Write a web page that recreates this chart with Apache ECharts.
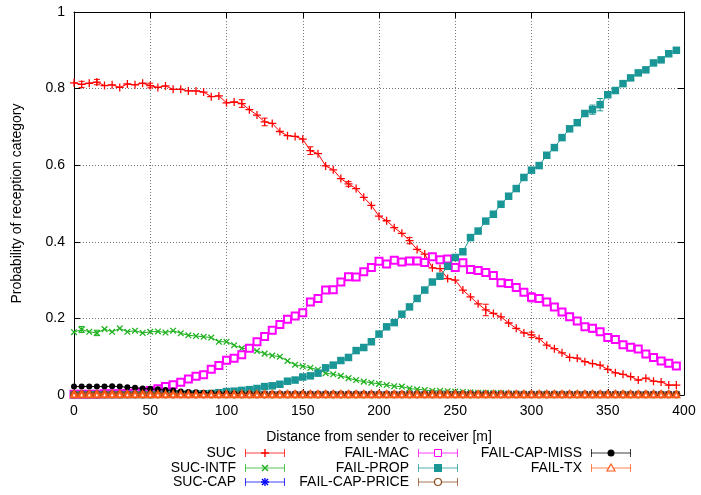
<!DOCTYPE html>
<html>
<head>
<meta charset="utf-8">
<script src="https://cdn.jsdelivr.net/npm/echarts@6/dist/echarts.min.js"></script>
<style>html,body{margin:0;padding:0;background:#fff;}#c{width:701px;height:495px;}</style>
</head>
<body>
<div id="c"></div>
<script>
// ---- data ----
const distance = [0,5,10,15,20,25,30,35,40,45,50,55,60,65,70,75,80,85,90,95,
  100,105,110,115,120,125,130,135,140,145,150,155,160,165,170,175,180,185,190,195,
  200,205,210,215,220,225,230,235,240,245,250,255,260,265,270,275,280,285,290,295,
  300,305,310,315,320,325,330,335,340,345,350,355,360,365,370,375,380,385,390,395];

const suc = [0.815,0.811,0.814,0.817,0.808,0.810,0.803,0.812,0.810,0.814,
  0.808,0.803,0.807,0.798,0.798,0.794,0.794,0.791,0.779,0.781,
  0.763,0.765,0.761,0.745,0.731,0.713,0.709,0.688,0.677,0.675,
  0.668,0.638,0.630,0.598,0.588,0.565,0.551,0.539,0.516,0.495,
  0.467,0.455,0.437,0.422,0.403,0.380,0.368,0.332,0.330,0.304,
  0.300,0.274,0.256,0.238,0.222,0.213,0.204,0.188,0.174,0.162,
  0.157,0.147,0.130,0.121,0.110,0.098,0.096,0.087,0.082,0.078,
  0.067,0.058,0.054,0.048,0.039,0.044,0.036,0.034,0.026,0.026];

const sucIntf = [0.164,0.171,0.165,0.162,0.172,0.165,0.174,0.165,0.168,0.162,
  0.165,0.166,0.163,0.168,0.161,0.156,0.154,0.152,0.150,0.139,
  0.139,0.130,0.122,0.121,0.115,0.108,0.103,0.100,0.089,0.079,
  0.075,0.071,0.066,0.057,0.054,0.050,0.044,0.039,0.035,0.032,
  0.029,0.026,0.023,0.022,0.017,0.015,0.013,0.011,0.011,0.010,
  0.009,0.008,0.007,0.006,0.006,0.005,0.005,0.004,0.004,0.003,
  0.003,0.003,0.003,0.003,0.002,0.002,0.002,0.002,0.002,0.002,
  0.002,0.002,0.002,0.001,0.001,0.001,0.001,0.001,0.001,0.001];

const sucCap = [0.001,0.001,0.001,0.001,0.001,0.001,0.001,0.001,0.001,0.001,
  0.001,0.001,0.001,0.001,0.001,0.001,0.001,0.001,0.001,0.001,
  0.001,0.001,0.001,0.001,0.001,0.001,0.001,0.001,0.001,0.001,
  0.001,0.001,0.001,0.001,0.001,0.001,0.001,0.001,0.001,0.001,
  0.001,0.001,0.001,0.001,0.001,0.001,0.001,0.001,0.001,0.001,
  0.001,0.001,0.001,0.001,0.001,0.001,0.001,0.001,0.001,0.001,
  0.001,0.001,0.001,0.001,0.001,0.001,0.001,0.001,0.001,0.001,
  0.001,0.001,0.001,0.001,0.001,0.001,0.001,0.001,0.001,0.001];

const failMac = [0.002,0.002,0.002,0.002,0.003,0.003,0.003,0.004,0.005,0.008,
  0.012,0.016,0.022,0.027,0.033,0.042,0.049,0.053,0.067,0.077,
  0.091,0.096,0.105,0.122,0.139,0.153,0.169,0.184,0.198,0.206,
  0.215,0.243,0.252,0.274,0.275,0.295,0.309,0.308,0.322,0.333,
  0.349,0.342,0.352,0.347,0.350,0.350,0.346,0.361,0.353,0.355,
  0.333,0.345,0.328,0.325,0.320,0.312,0.293,0.291,0.281,0.268,
  0.255,0.252,0.243,0.230,0.217,0.204,0.193,0.178,0.174,0.165,
  0.150,0.145,0.131,0.125,0.120,0.107,0.098,0.089,0.083,0.076];

const failProp = [0.001,0.001,0.001,0.001,0.001,0.001,0.001,0.001,0.001,0.001,
  0.001,0.002,0.002,0.002,0.002,0.003,0.003,0.003,0.004,0.006,
  0.009,0.010,0.012,0.014,0.017,0.022,0.024,0.028,0.036,0.039,
  0.047,0.050,0.057,0.071,0.078,0.090,0.098,0.116,0.124,0.139,
  0.159,0.178,0.189,0.211,0.230,0.252,0.274,0.295,0.310,0.336,
  0.359,0.374,0.411,0.428,0.454,0.472,0.498,0.519,0.539,0.568,
  0.587,0.599,0.626,0.646,0.672,0.695,0.711,0.735,0.745,0.758,
  0.784,0.795,0.813,0.828,0.841,0.849,0.867,0.875,0.891,0.900];

const failCapPrice = [0.001,0.001,0.001,0.001,0.001,0.001,0.001,0.001,0.001,0.001,
  0.001,0.001,0.001,0.001,0.001,0.001,0.001,0.001,0.001,0.001,
  0.001,0.001,0.001,0.001,0.001,0.001,0.001,0.001,0.001,0.001,
  0.001,0.001,0.001,0.001,0.001,0.001,0.001,0.001,0.001,0.001,
  0.001,0.001,0.001,0.001,0.001,0.001,0.001,0.001,0.001,0.001,
  0.001,0.001,0.001,0.001,0.001,0.001,0.001,0.001,0.001,0.001,
  0.001,0.001,0.001,0.001,0.001,0.001,0.001,0.001,0.001,0.001,
  0.001,0.001,0.001,0.001,0.001,0.001,0.001,0.001,0.001,0.001];

const failCapMiss = [0.022,0.022,0.022,0.022,0.022,0.023,0.022,0.020,0.019,0.017,
  0.016,0.015,0.013,0.012,0.009,0.008,0.007,0.006,0.005,0.004,
  0.004,0.003,0.003,0.003,0.002,0.002,0.002,0.002,0.002,0.002,
  0.002,0.002,0.002,0.002,0.002,0.002,0.002,0.002,0.002,0.002,
  0.001,0.001,0.001,0.001,0.001,0.001,0.001,0.001,0.001,0.001,
  0.001,0.001,0.001,0.001,0.001,0.001,0.001,0.001,0.001,0.001,
  0.001,0.001,0.001,0.001,0.001,0.001,0.001,0.001,0.001,0.001,
  0.001,0.001,0.001,0.001,0.001,0.001,0.001,0.001,0.001,0.001];

const failTx = [0.002,0.002,0.002,0.002,0.002,0.002,0.002,0.002,0.002,0.002,
  0.002,0.002,0.002,0.002,0.002,0.002,0.002,0.002,0.002,0.002,
  0.002,0.002,0.002,0.002,0.002,0.002,0.002,0.002,0.002,0.002,
  0.002,0.002,0.002,0.002,0.002,0.002,0.002,0.002,0.002,0.002,
  0.002,0.002,0.002,0.002,0.002,0.002,0.002,0.002,0.002,0.002,
  0.002,0.002,0.002,0.002,0.002,0.002,0.002,0.002,0.002,0.002,
  0.002,0.002,0.002,0.002,0.002,0.002,0.002,0.002,0.002,0.002,
  0.002,0.002,0.002,0.002,0.002,0.002,0.002,0.002,0.002,0.002];

// visible error bars: [distance, half-width]
const sucErr = [[5,0.008],[15,0.007],[50,0.006],[110,0.010],[125,0.010],[155,0.010],[180,0.006],[220,0.008],[270,0.015],[300,0.007]];
const intfErr = [[5,0.008],[15,0.007]];
const macErr = [[160,0.008],[300,0.012],[305,0.010],[340,0.010]];
const propErr = [[340,0.012],[345,0.016]];

const xTicks = [0,50,100,150,200,250,300,350,400];
const yTicks = [0,0.2,0.4,0.6,0.8,1];

const names = ['SUC','SUC-INTF','SUC-CAP','FAIL-MAC','FAIL-PROP','FAIL-CAP-PRICE','FAIL-CAP-MISS','FAIL-TX'];
const values = [suc,sucIntf,sucCap,failMac,failProp,failCapPrice,failCapMiss,failTx];
const colors = ['#ff0000','#1fb11f','#0000ff','#ff00ff','#1a9696','#8b4a1e','#000000','#ff5a1a'];
const errs = [sucErr,intfErr,null,macErr,propErr,null,null,null];

// ---- styles ----
const FONT = 'Liberation Sans, Arial, Helvetica, sans-serif';
const PLUS = 'path://M0,4.2H10V5.8H0Z M4.2,0H5.8V10H4.2Z';
const STAR = 'path://M0,4.3H10V5.7H0Z M4.3,0H5.7V10H4.3Z M1,0L10,9L9,10L0,1Z M9,0L10,1L1,10L0,9Z';
const symbols = [
  {symbol: PLUS, size: 8, rotate: 0},
  {symbol: PLUS, size: 8, rotate: 45},
  {symbol: STAR, size: 7, rotate: 0},
  {symbol: 'emptyRect', size: 7, rotate: 0},
  {symbol: 'rect', size: 7.5, rotate: 0},
  {symbol: 'emptyCircle', size: 6, rotate: 0},
  {symbol: 'circle', size: 6, rotate: 0},
  {symbol: 'emptyTriangle', size: 6, rotate: 0}
];

const series = [];
names.forEach((n, i) => {
  series.push({
    name: n, type: 'line',
    data: distance.map((d, k) => [d, values[i][k]]),
    symbol: symbols[i].symbol, symbolSize: symbols[i].size, symbolRotate: symbols[i].rotate,
    showSymbol: true, showAllSymbol: true,
    lineStyle: {color: colors[i], width: 1},
    itemStyle: {color: colors[i], borderColor: colors[i], borderWidth: (symbols[i].symbol.indexOf('empty') === 0 ? 1 : 0)},
    z: 2 + i, silent: true, animation: false
  });
  if (errs[i]) {
    const e = errs[i];
    series.push({
      type: 'custom', z: 2 + i, silent: true, animation: false,
      data: e.map(p => { const v = values[i][distance.indexOf(p[0])]; return [p[0], v - p[1], v + p[1]]; }),
      renderItem: (params, api) => {
        const lo = api.coord([api.value(0), api.value(1)]);
        const hi = api.coord([api.value(0), api.value(2)]);
        const st = {stroke: colors[i], lineWidth: 1};
        return {type: 'group', children: [
          {type: 'line', shape: {x1: lo[0], y1: lo[1], x2: hi[0], y2: hi[1]}, style: st},
          {type: 'line', shape: {x1: lo[0]-3, y1: lo[1], x2: lo[0]+3, y2: lo[1]}, style: st},
          {type: 'line', shape: {x1: hi[0]-3, y1: hi[1], x2: hi[0]+3, y2: hi[1]}, style: st}
        ]};
      }
    });
  }
});

// ---- legend drawn as graphics (gnuplot style) ----
const legendCols = [{tx: 236, lx1: 245, lx2: 285}, {tx: 409, lx1: 418, lx2: 458}, {tx: 582, lx1: 591, lx2: 631}];
const legendRows = [453, 468, 482];
const graphics = [];
names.forEach((n, i) => {
  const col = legendCols[Math.floor(i / 3)];
  const y = legendRows[i % 3];
  const c = colors[i];
  graphics.push({type: 'text', x: col.tx, y: y, silent: true,
    style: {text: n, align: 'right', verticalAlign: 'middle', fontSize: 14, fontFamily: FONT, fill: '#000'}});
  const ls = {stroke: c, lineWidth: 1, opacity: 0.75};
  graphics.push({type: 'line', shape: {x1: col.lx1, y1: y, x2: col.lx2, y2: y}, style: ls, silent: true});
  graphics.push({type: 'line', shape: {x1: col.lx1 + 0.5, y1: y - 4, x2: col.lx1 + 0.5, y2: y + 4}, style: ls, silent: true});
  graphics.push({type: 'line', shape: {x1: col.lx2 - 0.5, y1: y - 4, x2: col.lx2 - 0.5, y2: y + 4}, style: ls, silent: true});
  const mx = (col.lx1 + col.lx2) / 2;
  const ss = {stroke: c, lineWidth: 1.4};
  if (i === 0) {
    graphics.push({type: 'line', shape: {x1: mx - 4, y1: y, x2: mx + 4, y2: y}, style: ss, silent: true});
    graphics.push({type: 'line', shape: {x1: mx, y1: y - 4, x2: mx, y2: y + 4}, style: ss, silent: true});
  } else if (i === 1) {
    graphics.push({type: 'line', shape: {x1: mx - 3, y1: y - 3, x2: mx + 3, y2: y + 3}, style: ss, silent: true});
    graphics.push({type: 'line', shape: {x1: mx - 3, y1: y + 3, x2: mx + 3, y2: y - 3}, style: ss, silent: true});
  } else if (i === 2) {
    graphics.push({type: 'line', shape: {x1: mx - 4, y1: y, x2: mx + 4, y2: y}, style: ss, silent: true});
    graphics.push({type: 'line', shape: {x1: mx, y1: y - 4, x2: mx, y2: y + 4}, style: ss, silent: true});
    graphics.push({type: 'line', shape: {x1: mx - 3, y1: y - 3, x2: mx + 3, y2: y + 3}, style: ss, silent: true});
    graphics.push({type: 'line', shape: {x1: mx - 3, y1: y + 3, x2: mx + 3, y2: y - 3}, style: ss, silent: true});
  } else if (i === 3) {
    graphics.push({type: 'rect', shape: {x: mx - 3.5, y: y - 3.5, width: 7, height: 7}, style: {fill: '#fff', stroke: c, lineWidth: 1}, silent: true});
  } else if (i === 4) {
    graphics.push({type: 'rect', shape: {x: mx - 4, y: y - 4, width: 8, height: 8}, style: {fill: c}, silent: true});
  } else if (i === 5) {
    graphics.push({type: 'circle', shape: {cx: mx, cy: y, r: 3.5}, style: {fill: '#fff', stroke: c, lineWidth: 1.2}, silent: true});
  } else if (i === 6) {
    graphics.push({type: 'circle', shape: {cx: mx, cy: y, r: 3.5}, style: {fill: c}, silent: true});
  } else {
    graphics.push({type: 'polygon', shape: {points: [[mx, y - 4], [mx + 4, y + 3], [mx - 4, y + 3]]}, style: {fill: '#fff', stroke: c, lineWidth: 1.2}, silent: true});
  }
});

const gridLine = {show: true, lineStyle: {color: '#777', type: [1, 2], width: 1}};
const option = {
  animation: false,
  backgroundColor: '#fff',
  textStyle: {fontFamily: FONT},
  grid: {left: 74, right: 17, top: 12, bottom: 100},
  xAxis: [
    {type: 'value', min: xTicks[0], max: xTicks[xTicks.length - 1], interval: xTicks[1] - xTicks[0],
     name: 'Distance from sender to receiver [m]', nameLocation: 'middle', nameGap: 35,
     nameTextStyle: {fontSize: 14, color: '#000', fontFamily: FONT},
     axisLine: {show: true, onZero: false, lineStyle: {color: '#000', width: 1}},
     axisTick: {show: true, inside: true, length: 6, lineStyle: {color: '#000'}},
     axisLabel: {fontSize: 14, color: '#000', margin: 9, fontFamily: FONT},
     splitLine: gridLine},
    {type: 'value', position: 'top', min: xTicks[0], max: xTicks[xTicks.length - 1], interval: xTicks[1] - xTicks[0],
     axisLine: {show: true, onZero: false, lineStyle: {color: '#000', width: 1}},
     axisTick: {show: true, inside: true, length: 6, lineStyle: {color: '#000'}},
     axisLabel: {show: false}, splitLine: {show: false}}
  ],
  yAxis: [
    {type: 'value', min: yTicks[0], max: yTicks[yTicks.length - 1], interval: yTicks[1] - yTicks[0],
     name: 'Probability of reception category', nameLocation: 'middle', nameGap: 50, nameRotate: 90,
     nameTextStyle: {fontSize: 14, color: '#000', fontFamily: FONT},
     axisLine: {show: true, onZero: false, lineStyle: {color: '#000', width: 1}},
     axisTick: {show: true, inside: true, length: 6, lineStyle: {color: '#000'}},
     axisLabel: {fontSize: 14, color: '#000', margin: 9, fontFamily: FONT},
     splitLine: gridLine},
    {type: 'value', position: 'right', min: yTicks[0], max: yTicks[yTicks.length - 1], interval: yTicks[1] - yTicks[0],
     axisLine: {show: true, onZero: false, lineStyle: {color: '#000', width: 1}},
     axisTick: {show: true, inside: true, length: 6, lineStyle: {color: '#000'}},
     axisLabel: {show: false}, splitLine: {show: false}}
  ],
  series: series,
  graphic: graphics
};
const chart = echarts.init(document.getElementById('c'), null, {renderer: 'canvas'});
chart.setOption(option);
</script>
</body>
</html>
